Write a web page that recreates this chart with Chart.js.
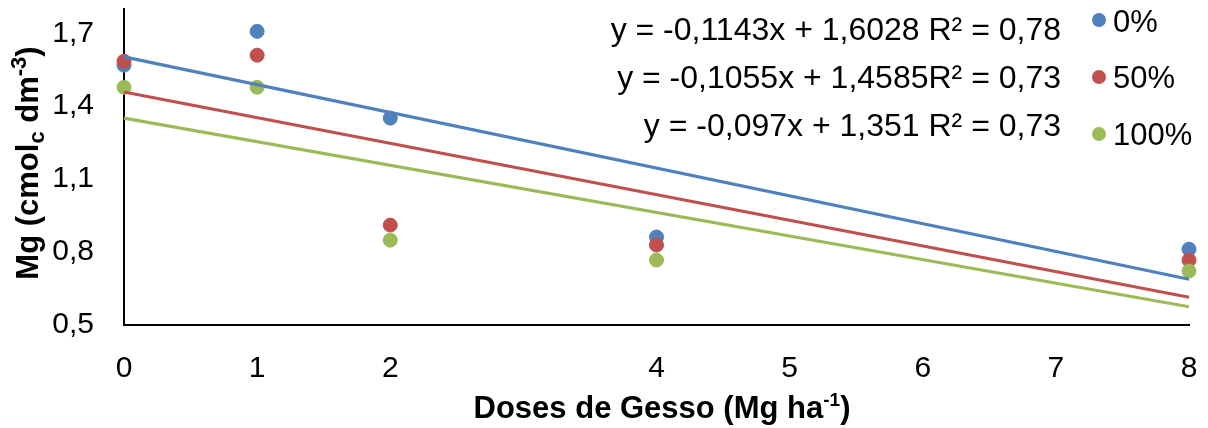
<!DOCTYPE html>
<html>
<head>
<meta charset="utf-8">
<script src="https://cdn.jsdelivr.net/npm/chart.js@4/dist/chart.umd.min.js"></script>
<style>
  html, body { margin: 0; padding: 0; background: #fff; }
  #wrap { width: 1208px; height: 428px; }
</style>
</head>
<body>
<div id="wrap"><canvas id="mg_canvas"></canvas></div>
<script>
// doses de gesso (Mg/ha)
const doses = [0, 1, 2, 4, 8];
const seriesNames = ['0%', '50%', '100%'];
const mg0 = [1.569, 1.708, 1.351, 0.862, 0.812];
const mg50 = [1.585, 1.610, 0.911, 0.829, 0.767];
const mg100 = [1.478, 1.478, 0.849, 0.767, 0.722];
// trend lines, value at x=0 and x=8
const trendStart = [1.6028, 1.4585, 1.351];
const trendEnd = [0.688, 0.614, 0.575];
const equations = [
    'y = -0,1143x + 1,6028 R² = 0,78',
    'y = -0,1055x + 1,4585R² = 0,73',
    'y = -0,097x + 1,351 R² = 0,73'
];
const xTickLabels = ['0', '1', '2', '', '4', '5', '6', '7', '8'];
const yTicks = [0.5, 0.8, 1.1, 1.4, 1.7];
const yTickLabels = ['0,5', '0,8', '1,1', '1,4', '1,7'];
const colors = ['#4F81BD', '#C0504D', '#9BBB59'];

const FONT = '"Liberation Sans", Arial, sans-serif';

function toPoints(values) {
    return doses.map((d, i) => ({ x: d, y: values[i] }));
}

const allSeries = [mg0, mg50, mg100];
const datasets = [];
for (let s = 0; s < 3; s++) {
    datasets.push({
        type: 'line',
        label: 'trend ' + seriesNames[s],
        data: [{ x: 0, y: trendStart[s] }, { x: 8, y: trendEnd[s] }],
        borderColor: colors[s],
        borderWidth: 3.2,
        pointRadius: 0,
        fill: false,
        clip: false,
        order: 0
    });
}
for (let s = 0; s < 3; s++) {
    datasets.push({
        type: 'scatter',
        label: seriesNames[s],
        data: toPoints(allSeries[s]),
        backgroundColor: colors[s],
        borderColor: colors[s],
        pointRadius: 7,
        pointBorderWidth: 1,
        clip: false,
        order: 3 - s
    });
}

// titles, equations and legend drawn by hand (sub/superscripts)
const extraText = {
    id: 'extraText',
    afterDraw(chart) {
        const ctx = chart.ctx;
        ctx.save();
        ctx.fillStyle = '#000';
        ctx.textBaseline = 'alphabetic';

        // equations
        ctx.font = '32px ' + FONT;
        ctx.textAlign = 'right';
        const eqBase = [40, 88, 136];
        for (let i = 0; i < 3; i++) {
            ctx.fillText(equations[i], 1061, eqBase[i]);
        }

        // legend
        const legY = [20, 77, 134];
        const legBase = [32, 88, 145];
        ctx.font = '31px ' + FONT;
        ctx.textAlign = 'left';
        for (let i = 0; i < 3; i++) {
            ctx.fillStyle = colors[i];
            ctx.beginPath();
            ctx.arc(1099, legY[i], 7, 0, Math.PI * 2);
            ctx.fill();
            ctx.fillStyle = '#000';
            ctx.fillText(seriesNames[i], 1113, legBase[i]);
        }

        // x title
        const big = 'bold 31px ' + FONT;
        const small = 'bold 19px ' + FONT;
        const xParts = [['Doses de Gesso (Mg ha', big, 0], ['-1', small, -12], [')', big, 0]];
        drawParts(ctx, xParts, 662, 418);

        // y title
        const yBig = 'bold 31px ' + FONT;
        const ySmall = 'bold 22px ' + FONT;
        ctx.translate(38, 163);
        ctx.rotate(-Math.PI / 2);
        const yParts = [['Mg (cmol', yBig, 0], ['c', ySmall, 6], [' dm', yBig, 0], ['-3', ySmall, -12], [')', yBig, 0]];
        drawParts(ctx, yParts, 0, 0);
        ctx.restore();
    }
};

function drawParts(ctx, parts, cx, baseY) {
    let total = 0;
    parts.forEach(p => { ctx.font = p[1]; total += ctx.measureText(p[0]).width; });
    let x = cx - total / 2;
    ctx.textAlign = 'left';
    parts.forEach(p => {
        ctx.font = p[1];
        ctx.fillText(p[0], x, baseY + p[2]);
        x += ctx.measureText(p[0]).width;
    });
}

new Chart(document.getElementById('mg_canvas'), {
    data: { datasets: datasets },
    options: {
        responsive: true,
        maintainAspectRatio: false,
        animation: false,
        layout: { padding: { left: 0, right: 19, top: 9, bottom: 0 } },
        plugins: {
            legend: { display: false },
            tooltip: { enabled: false }
        },
        scales: {
            x: {
                type: 'linear',
                min: 0,
                max: 8,
                grid: { display: false, drawTicks: false },
                border: { display: true, color: '#000', width: 2 },
                ticks: {
                    stepSize: 1,
                    padding: 26,
                    color: '#000',
                    font: { size: 30, family: FONT },
                    maxRotation: 0,
                    autoSkip: false,
                    callback: (v, i) => xTickLabels[i]
                },
                afterFit: s => {
                    s.height = 103;
                    s.paddingLeft = 0;
                    s.paddingRight = 0;
                }
            },
            y: {
                min: 0.5,
                max: 1.8,
                grid: { display: false, drawTicks: false },
                border: { display: true, color: '#000', width: 2 },
                afterBuildTicks: s => { s.ticks = yTicks.map(v => ({ value: v })); },
                ticks: {
                    padding: 30,
                    color: '#000',
                    font: { size: 30, family: FONT },
                    callback: (v, i) => yTickLabels[i]
                },
                afterFit: s => {
                    s.width = 124;
                    s.paddingTop = 0;
                    s.paddingBottom = 0;
                }
            }
        }
    },
    plugins: [extraText]
});
</script>
</body>
</html>
